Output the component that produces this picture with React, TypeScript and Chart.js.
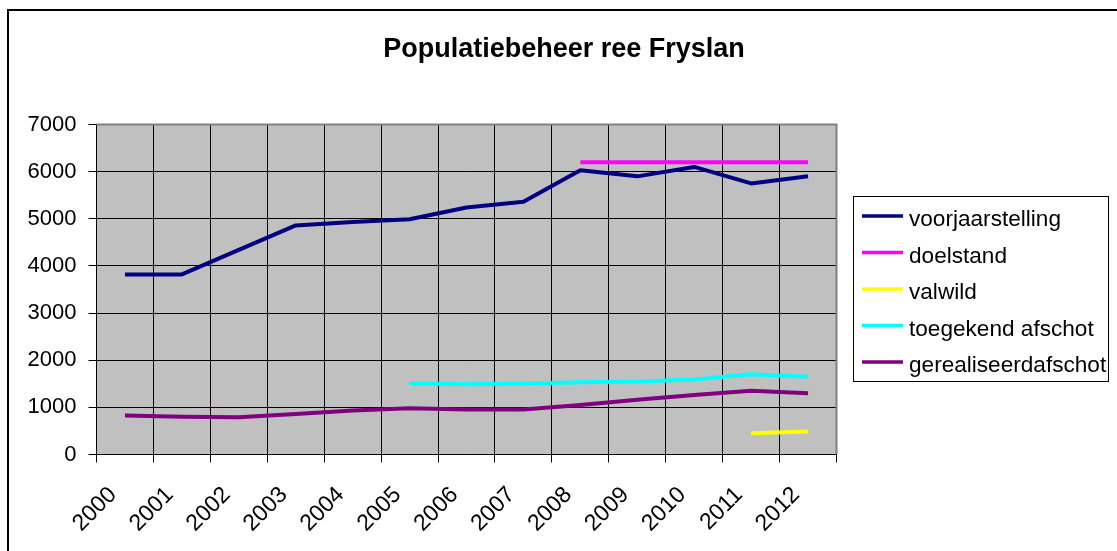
import React, { useEffect, useRef } from "react";
import { Chart, registerables } from "chart.js";

Chart.register(...registerables);

const years = ["2000", "2001", "2002", "2003", "2004", "2005", "2006", "2007", "2008", "2009", "2010", "2011", "2012"];
const voorjaarstelling = [3820, 3820, 4340, 4860, 4930, 4990, 5240, 5360, 6030, 5900, 6100, 5750, 5900];
const doelstand = [null, null, null, null, null, null, null, null, 6200, 6200, 6200, 6200, 6200];
const valwild = [null, null, null, null, null, null, null, null, null, null, null, 450, 490];
const toegekendAfschot = [null, null, null, null, null, 1510, 1490, 1505, 1535, 1550, 1590, 1700, 1650];
const gerealiseerdAfschot = [825, 800, 790, 860, 935, 980, 955, 955, 1050, 1160, 1260, 1350, 1300];
const yTicks = [0, 1000, 2000, 3000, 4000, 5000, 6000, 7000];

const titleText = "Populatiebeheer ree Fryslan";
const FONT = "'Liberation Sans', Arial, sans-serif";

const decorPlugin = {
  id: "decor",
  beforeDraw(chart: any) {
    const { ctx, chartArea } = chart;
    ctx.save();
    ctx.fillStyle = "#ffffff";
    ctx.fillRect(0, 0, chart.width, chart.height);
    // outer chart border
    ctx.strokeStyle = "#000000";
    ctx.lineWidth = 2;
    ctx.strokeRect(8, 10, 1200, 700);
    // plot background
    ctx.fillStyle = "#C0C0C0";
    ctx.fillRect(chartArea.left, chartArea.top, chartArea.right - chartArea.left, chartArea.bottom - chartArea.top);
    ctx.restore();
  },
  beforeDatasetsDraw(chart: any) {
    const { ctx, chartArea } = chart;
    ctx.save();
    ctx.strokeStyle = "#808080";
    ctx.lineWidth = 2;
    ctx.beginPath();
    ctx.moveTo(chartArea.left, chartArea.top);
    ctx.lineTo(chartArea.right, chartArea.top);
    ctx.lineTo(chartArea.right, chartArea.bottom);
    ctx.stroke();
    ctx.restore();
  },
  afterDraw(chart: any) {
    const { ctx } = chart;
    ctx.save();
    // title
    ctx.fillStyle = "#000000";
    ctx.font = `bold 27px ${FONT}`;
    ctx.textAlign = "center";
    ctx.textBaseline = "alphabetic";
    ctx.fillText(titleText, 564, 57);
    // legend
    const bx = 853.5, by = 196.5, bw = 255, bh = 185;
    ctx.fillStyle = "#ffffff";
    ctx.fillRect(bx, by, bw, bh);
    ctx.strokeStyle = "#000000";
    ctx.lineWidth = 1;
    ctx.strokeRect(bx, by, bw, bh);
    ctx.font = `22.6px ${FONT}`;
    ctx.textAlign = "left";
    chart.data.datasets.forEach((ds: any, i: number) => {
      const y = 216 + i * 36.5;
      ctx.strokeStyle = ds.borderColor;
      ctx.lineWidth = 3.5;
      ctx.beginPath();
      ctx.moveTo(862, y);
      ctx.lineTo(903, y);
      ctx.stroke();
      ctx.fillStyle = "#000000";
      ctx.fillText(ds.label, 909, y + 10);
    });
    ctx.restore();
  },
};

export default function App() {
  const ref = useRef<HTMLCanvasElement>(null);
  useEffect(() => {
    const canvas = ref.current;
    if (!canvas) return;
    const mk = (label: string, data: any[], color: string) => ({
      label,
      data,
      borderColor: color,
      backgroundColor: color,
      borderWidth: 4,
      pointRadius: 0,
      pointHoverRadius: 0,
      tension: 0,
      fill: false,
      spanGaps: false,
      borderJoinStyle: "round" as const,
    });
    const chart = new Chart(canvas, {
      type: "line",
      data: {
        labels: years,
        datasets: [
          mk("voorjaarstelling", voorjaarstelling, "#000080"),
          mk("doelstand", doelstand, "#FF00FF"),
          mk("valwild", valwild, "#FFFF00"),
          mk("toegekend afschot", toegekendAfschot, "#00FFFF"),
          mk("gerealiseerdafschot", gerealiseerdAfschot, "#800080"),
        ],
      },
      options: {
        animation: false,
        responsive: false,
        devicePixelRatio: 1,
        layout: { padding: { left: 0, right: 280.5, top: 124.5, bottom: 0 } },
        plugins: {
          legend: { display: false },
          title: { display: false },
          tooltip: { enabled: false },
        },
        scales: {
          x: {
            type: "category",
            offset: true,
            grid: { offset: true, color: "#000000", lineWidth: 1, tickLength: 8, tickColor: "#000000" },
            border: { color: "#000000", width: 1 },
            ticks: {
              autoSkip: false,
              minRotation: 45,
              maxRotation: 45,
              padding: 19,
              labelOffset: -12,
              color: "#000000",
              font: { family: FONT, size: 23 },
            },
            afterFit: (s: any) => { s.height = 96.5; },
          },
          y: {
            min: 0,
            max: 7000,
            afterBuildTicks: (s: any) => { s.ticks = yTicks.map((v) => ({ value: v })); },
            grid: { color: "#000000", lineWidth: 1, tickLength: 8, tickColor: "#000000" },
            border: { color: "#000000", width: 1 },
            ticks: {
              padding: 12,
              color: "#000000",
              font: { family: FONT, size: 22 },
              callback: (v: any) => String(v),
            },
            afterFit: (s: any) => { s.width = 96.5; },
          },
        },
      },
      plugins: [decorPlugin],
    });
    return () => chart.destroy();
  }, []);
  return (
    <div style={{ position: "absolute", left: 0, top: 0, width: 1117, height: 551 }}>
      <canvas ref={ref} width={1117} height={551} style={{ display: "block", width: 1117, height: 551 }} />
    </div>
  );
}
